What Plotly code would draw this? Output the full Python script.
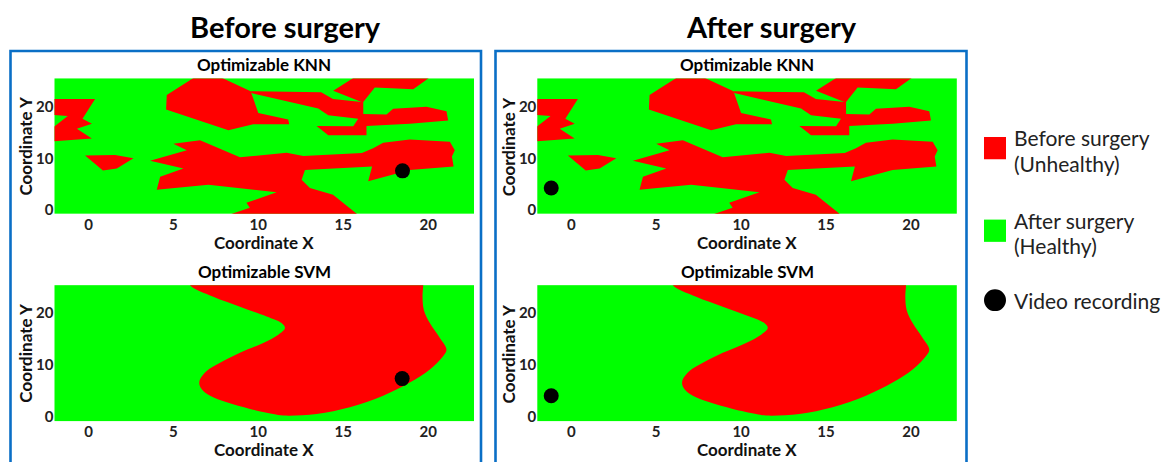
import plotly.graph_objects as go

# ---------------- data ----------------
panel_titles = ["Before surgery", "After surgery"]
model_titles = ["Optimizable KNN", "Optimizable SVM"]
x_ticks = [0, 5, 10, 15, 20]
y_ticks = [0, 10, 20]

# KNN "Before surgery (Unhealthy)" regions (polygon vertices in data coords)
knn_red_a = [(-2.5, 21.6), (0.39, 21.6), (-0.35, 17.75), (0.2, 16.8), (-0.68, 15.8),
             (0.2, 13.9), (-2.5, 13.3), (-2.5, 15.0), (-1.22, 18.3), (-2.5, 18.6)]
knn_red_b = [(-0.2, 10.6), (1.57, 10.7), (2.65, 10.1), (1.67, 8.1), (0.85, 7.7)]
knn_red_c = [(4.61, 22.4), (6.57, 26.5), (7.35, 26.5), (9.55, 23.1), (10.0, 18.9),
             (11.76, 17.6), (11.82, 16.7), (9.7, 16.7), (8.24, 15.5), (4.57, 19.55)]
knn_red_d = [(9.55, 23.1), (13.7, 22.9), (14.4, 21.6), (16.08, 21.0), (14.41, 23.2),
             (15.98, 26.5), (20.39, 26.5), (19.12, 23.5), (16.86, 23.85), (16.18, 21.0),
             (16.18, 18.7), (17.55, 18.6), (17.94, 19.7), (19.9, 20.1), (21.08, 19.2),
             (21.18, 17.4), (18.92, 16.8), (16.37, 16.35), (16.37, 14.55), (14.12, 14.55),
             (13.43, 16.35), (15.59, 16.3), (15.88, 17.75), (14.12, 18.45), (13.53, 19.75),
             (9.6, 22.75)]
knn_red_e = [(5.0, 12.9), (6.57, 13.6), (8.92, 10.25), (11.67, 11.15), (12.65, 10.5),
             (16.1, 11.1), (16.76, 12.0), (17.35, 13.1), (18.92, 13.7), (21.28, 13.3),
             (21.57, 11.65), (21.4, 10.4), (21.5, 8.45), (18.92, 7.8), (16.47, 5.6),
             (16.7, 8.45), (12.75, 7.8), (12.55, 5.9), (13.04, 4.3), (14.4, 3.0),
             (15.9, -1.0), (8.2, -1.0), (9.5, 0.45), (9.3, 1.4), (11.08, 3.45),
             (7.06, 4.9), (4.02, 3.97), (4.22, 6.5), (5.59, 8.1), (3.63, 9.6),
             (5.79, 11.65)]
knn_red_regions = [knn_red_a, knn_red_b, knn_red_c, knn_red_d, knn_red_e]

# SVM "Before surgery (Unhealthy)" region boundary
svm_red_x = [5.9, 5.98, 7.35, 8.92, 10.49, 11.37, 11.57, 11.18, 10.29, 8.92, 7.75, 6.96,
             6.57, 6.53, 6.67, 7.16, 8.14, 9.51, 10.88, 11.47, 13.43, 15.39, 17.35, 18.92,
             20.1, 20.88, 21.08, 20.69, 20.1, 19.75, 19.67, 19.71, 19.71]
svm_red_y = [26.5, 25.4, 23.17, 21.27, 19.37, 18.1, 17.14, 15.87, 14.29, 12.38, 10.48, 8.89,
             7.3, 6.35, 5.4, 4.13, 2.86, 1.59, 0.63, 0.32, 0.63, 1.9, 4.13, 6.67,
             9.2, 11.75, 13.0, 15.24, 18.1, 20.6, 23.17, 25.4, 26.5]

# video recording positions: [before, after]
video_knn_x = [18.49, -1.18]
video_knn_y = [7.63, 4.3]
video_svm_x = [18.47, -1.18]
video_svm_y = [7.43, 4.13]

legend_labels = [["Before surgery", "(Unhealthy)"], ["After surgery", "(Healthy)"], ["Video recording"]]

RED = "#ff0000"
GREEN = "#00ff00"
W, H = 1168, 462

# ---------------- figure ----------------
fig = go.Figure()

def px(x):
    return x / W

def py(y):
    return 1 - y / H

col_dom = [[px(54.5), px(474)], [px(537.3), px(956.8)]]
row_dom = [[py(216), py(79.3)], [py(425.7), py(288.3)]]
knn_yrange = [-0.7, 25.6]
svm_yrange = [-0.75, 25.4]
xrange_ = [-2.0, 22.7]

tickfont = dict(family="Lato", size=15, color="#222222")
axis_id = 0
for col in range(2):
    for row in range(2):
        axis_id += 1
        xa = "x" if axis_id == 1 else f"x{axis_id}"
        ya = "y" if axis_id == 1 else f"y{axis_id}"
        if row == 0:
            for poly in knn_red_regions:
                fig.add_trace(go.Scatter(
                    x=[p[0] for p in poly] + [poly[0][0]],
                    y=[p[1] for p in poly] + [poly[0][1]],
                    mode="lines", fill="toself", fillcolor=RED,
                    line=dict(width=0, color=RED), hoverinfo="skip",
                    showlegend=False, xaxis=xa, yaxis=ya))
            vx, vy = video_knn_x[col], video_knn_y[col]
        else:
            fig.add_trace(go.Scatter(
                x=svm_red_x, y=svm_red_y, mode="lines", fill="toself", fillcolor=RED,
                line=dict(width=0, color=RED, shape="spline", smoothing=1.0),
                hoverinfo="skip", showlegend=False, xaxis=xa, yaxis=ya))
            vx, vy = video_svm_x[col], video_svm_y[col]
        fig.add_trace(go.Scatter(
            x=[vx], y=[vy], mode="markers",
            marker=dict(size=15, color="black"), showlegend=False,
            xaxis=xa, yaxis=ya))
        key = "" if axis_id == 1 else str(axis_id)
        fig.layout["xaxis" + key] = dict(
            domain=col_dom[col], range=xrange_, anchor=ya, tickvals=x_ticks,
            ticktext=[f"<b>{t}</b>" for t in x_ticks], tickfont=tickfont,
            showgrid=False, zeroline=False, showline=False, ticks="", fixedrange=True)
        fig.layout["yaxis" + key] = dict(
            domain=row_dom[row], range=knn_yrange if row == 0 else svm_yrange,
            anchor=xa, tickvals=y_ticks, ticktext=[f"<b>{t}</b>" for t in y_ticks],
            tickfont=tickfont, showgrid=False, zeroline=False, showline=False,
            ticks="", fixedrange=True)

annotations = []
shapes = []
# main titles
for col, cx in enumerate([285, 771]):
    annotations.append(dict(text=f"<b>{panel_titles[col]}</b>", x=px(cx), y=py(27),
                            xref="paper", yref="paper", showarrow=False,
                            font=dict(family="Lato", size=29, color="black"),
                            xanchor="center", yanchor="middle"))
# blue boxes
for x0, x1 in [(10.5, 481), (495.5, 966.5)]:
    shapes.append(dict(type="rect", xref="paper", yref="paper",
                       x0=px(x0), x1=px(x1), y0=py(475), y1=py(51.5),
                       line=dict(color="#0a6fc6", width=2.6)))
for col in range(2):
    left = col_dom[col][0] * W
    cx = (col_dom[col][0] + col_dom[col][1]) / 2
    for row in range(2):
        top = [79.3, 288.3][row]
        bottom = [216, 425.7][row]
        annotations.append(dict(text=f"<b>{model_titles[row]}</b>", x=cx, y=py(top - 14),
                                xref="paper", yref="paper", showarrow=False,
                                font=dict(family="Lato", size=17, color="black"),
                                xanchor="center", yanchor="middle"))
        annotations.append(dict(text="<b>Coordinate X</b>", x=cx, y=py(bottom + 29),
                                xref="paper", yref="paper", showarrow=False,
                                font=dict(family="Lato", size=17, color="#111111"),
                                xanchor="center", yanchor="middle"))
        annotations.append(dict(text="<b>Coordinate Y</b>", x=px(left - 29),
                                y=py((top + bottom) / 2), textangle=-90,
                                xref="paper", yref="paper", showarrow=False,
                                font=dict(family="Lato", size=17, color="#111111"),
                                xanchor="center", yanchor="middle"))

# legend
shapes.append(dict(type="rect", xref="paper", yref="paper", x0=px(984), x1=px(1006),
                   y0=py(161), y1=py(138.5), fillcolor=RED, line=dict(width=0)))
shapes.append(dict(type="rect", xref="paper", yref="paper", x0=px(984), x1=px(1006),
                   y0=py(244.5), y1=py(222), fillcolor=GREEN, line=dict(width=0)))
shapes.append(dict(type="circle", xref="paper", yref="paper", x0=px(984), x1=px(1006),
                   y0=py(314.5), y1=py(292.5), fillcolor="black", line=dict(width=0)))
legend_rows = [[139.5, 165], [222.5, 248.5], [304]]
for labels, ys in zip(legend_labels, legend_rows):
    for lab, yy in zip(labels, ys):
        annotations.append(dict(text=lab, x=px(1012), y=py(yy), xref="paper", yref="paper",
                                showarrow=False, xanchor="left", yanchor="middle",
                                font=dict(family="Lato", size=21, color="#222222")))

fig.update_layout(width=W, height=H, margin=dict(l=0, r=0, t=0, b=0),
                  paper_bgcolor="white", plot_bgcolor=GREEN,
                  annotations=annotations, shapes=shapes, showlegend=False)

fig.write_html("out.html", config={"displayModeBar": False})
